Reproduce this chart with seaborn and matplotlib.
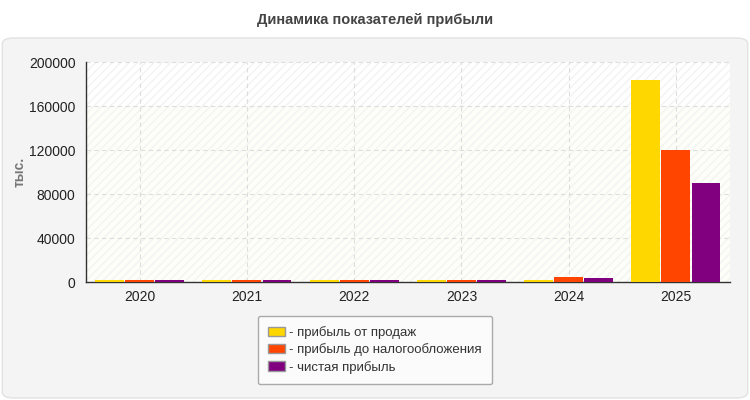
import pandas as pd
import matplotlib.pyplot as plt
import seaborn as sns
from matplotlib.patches import FancyBboxPatch, Rectangle, Patch

# Данные
years = ['2020', '2021', '2022', '2023', '2024', '2025']
pribyl_prodazh = [1800, 1800, 1800, 1800, 1800, 183500]
pribyl_do_nalog = [1900, 1900, 1900, 1900, 4500, 120000]
chistaya_pribyl = [1800, 1800, 1800, 1800, 3200, 90000]

series_names = ['- прибыль от продаж', '- прибыль до налогообложения', '- чистая прибыль']
colors = ['#FFD700', '#FF4500', '#800080']

df = pd.DataFrame({
    'год': years * 3,
    'значение': pribyl_prodazh + pribyl_do_nalog + chistaya_pribyl,
    'показатель': [series_names[0]] * 6 + [series_names[1]] * 6 + [series_names[2]] * 6,
})

sns.set_style("white")
plt.rcParams['font.family'] = ['Liberation Sans', 'DejaVu Sans']

fig = plt.figure(figsize=(7.5, 4), dpi=100)
fig.patch.set_facecolor('white')

# Серая подложка с закруглёнными углами
panel = FancyBboxPatch((0.003, 0.005), 0.994, 0.9, boxstyle="round,pad=0,rounding_size=0.015",
                       transform=fig.transFigure, facecolor='#f4f4f4', edgecolor='#e2e2e2',
                       linewidth=1, zorder=-10)
fig.patches.append(panel)

fig.text(0.5, 0.95, 'Динамика показателей прибыли', ha='center', va='center',
         fontsize=10.5, fontweight='bold', color='#444444')

ax = fig.add_axes([0.1147, 0.295, 0.858, 0.55])
ax.set_facecolor('white')
ax.axhspan(0, 160000, color='#fefef8', zorder=0, lw=0)
ax.add_patch(Rectangle((0, 0), 1, 1, transform=ax.transAxes, facecolor='none',
                       edgecolor='#f3f3f3', hatch='////', lw=0, zorder=0))

sns.barplot(data=df, x='год', y='значение', hue='показатель', palette=colors,
            width=0.84, gap=0.04, ax=ax, saturation=1, zorder=3, legend=False,
            linewidth=0)

ax.set_xlim(-0.5, 5.5)
ax.set_ylim(0, 200000)
ax.set_yticks(range(0, 200001, 40000))
ax.set_xlabel('')
ax.set_ylabel('тыс.', fontsize=10, fontweight='bold', color='#777777')
ax.yaxis.set_label_coords(-0.092, 0.5)
ax.grid(True, linestyle=(0, (4, 3)), color='#dddddd', linewidth=0.8, zorder=1)
ax.set_axisbelow(True)
for s in ['top', 'right']:
    ax.spines[s].set_visible(False)
for s in ['left', 'bottom']:
    ax.spines[s].set_color('#333333')
    ax.spines[s].set_linewidth(1)
ax.tick_params(axis='both', labelsize=10, colors='#222222', length=4, width=1)
ax.tick_params(axis='x', length=0, pad=6)

handles = [Patch(facecolor=c, edgecolor='#999999', label=n) for c, n in zip(colors, series_names)]
leg = fig.legend(handles=handles, loc='center', bbox_to_anchor=(0.5, 0.125), fontsize=9.5,
                 frameon=True, fancybox=True, handlelength=1.3, handleheight=0.7,
                 handletextpad=0.3, labelspacing=0.32, borderpad=0.8, borderaxespad=0)
leg.get_frame().set_facecolor('#fbfbfb')
leg.get_frame().set_edgecolor('#aaaaaa')
leg.get_frame().set_alpha(1)
for t in leg.get_texts():
    t.set_color('#333333')

fig.savefig('out.png', dpi=100)
